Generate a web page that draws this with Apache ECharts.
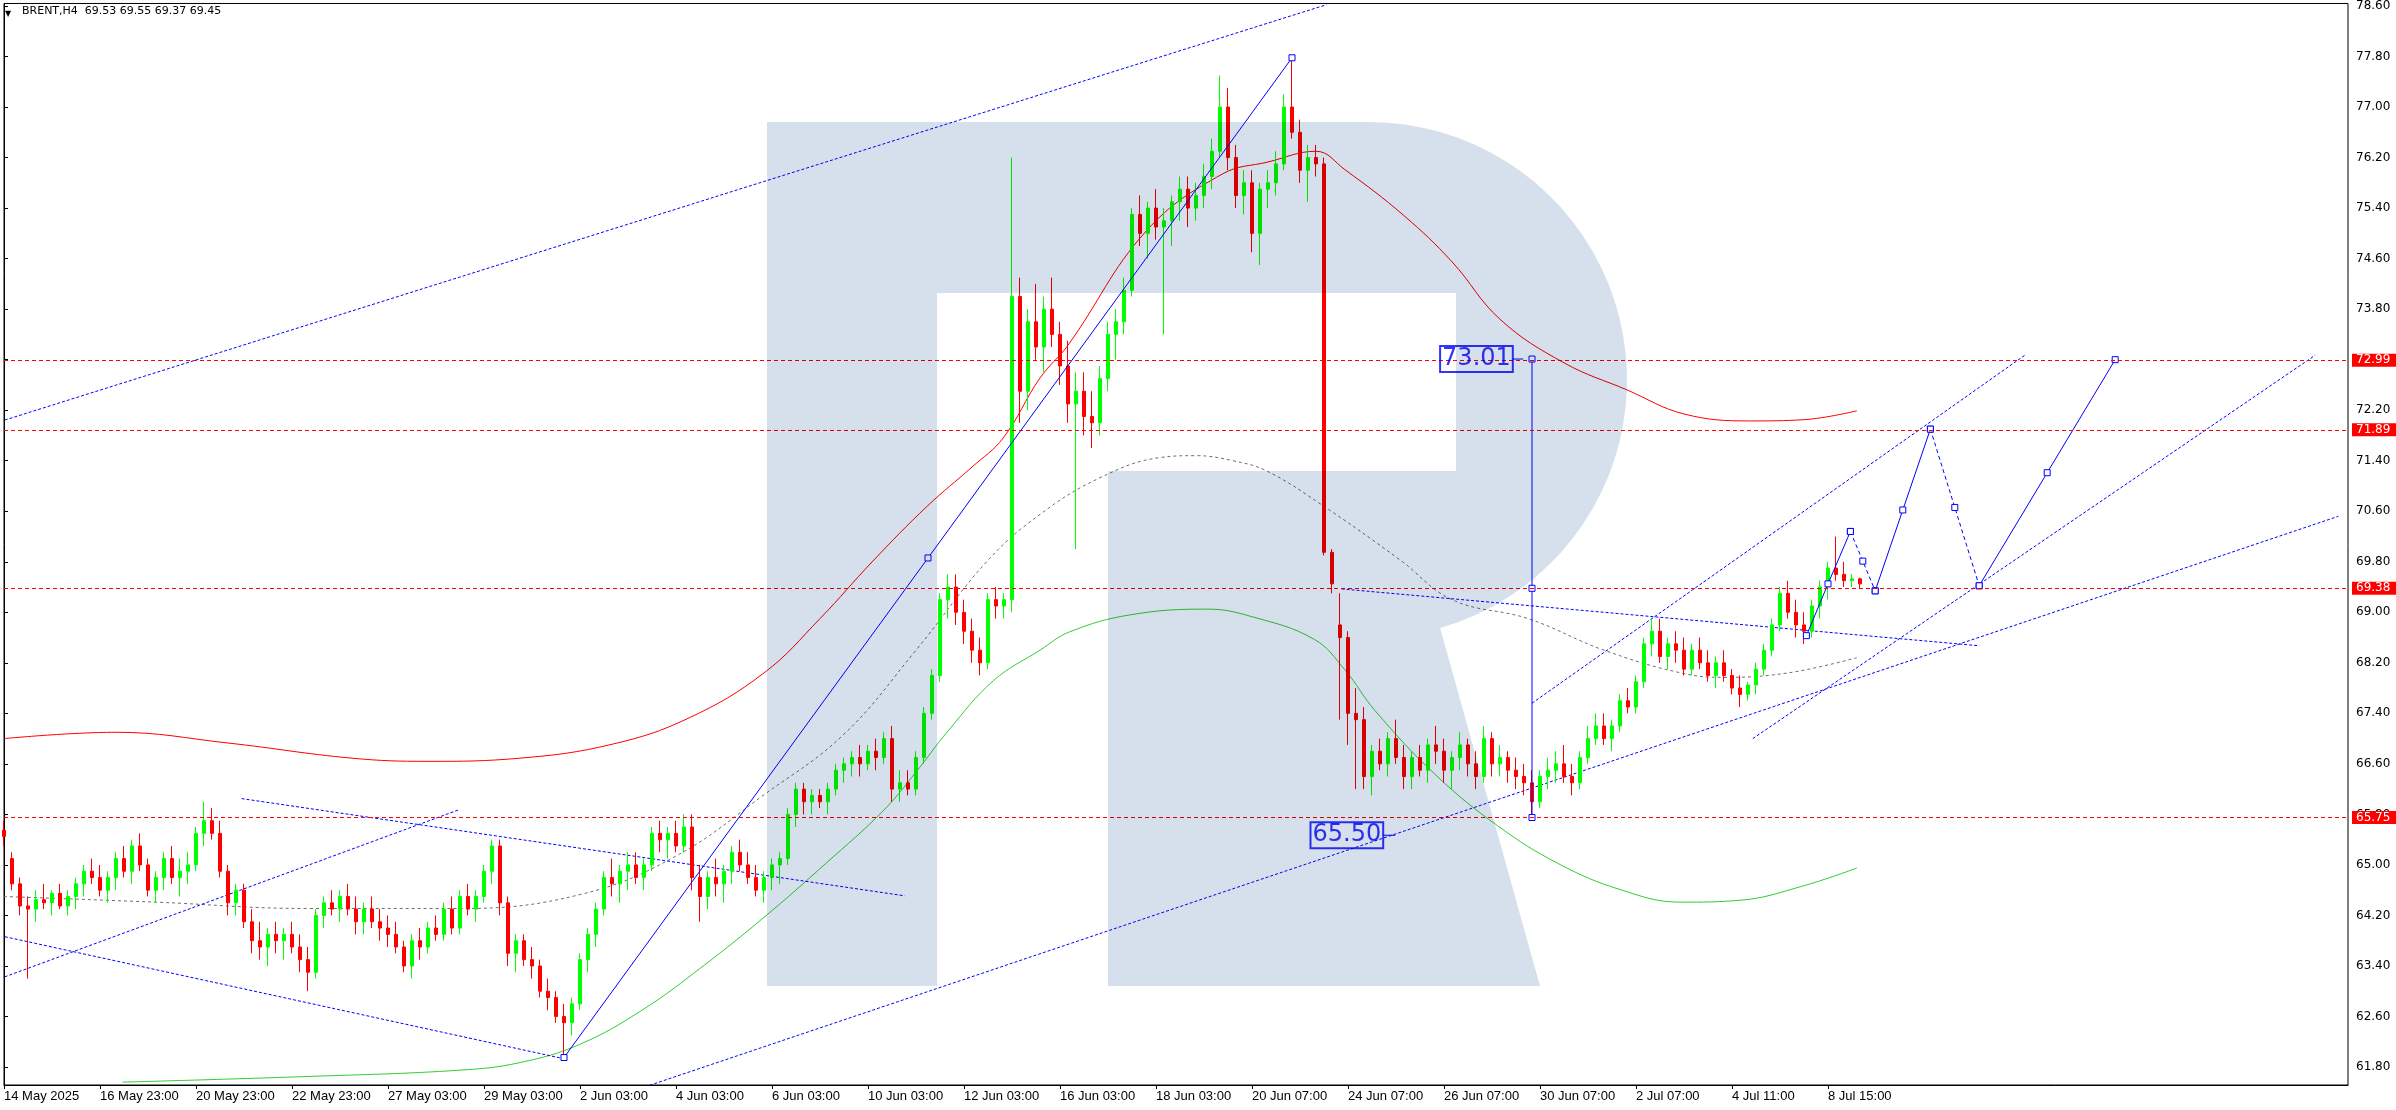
<!DOCTYPE html>
<html><head><meta charset="utf-8">
<script src="https://cdn.jsdelivr.net/npm/echarts@6/dist/echarts.min.js"></script>
<style>html,body{margin:0;padding:0;background:#fff}#c{width:2396px;height:1110px}</style>
</head><body><div id="c"></div><script>
const xTickBars = [0,12,24,36,48,60,72,84,96,108,120,132,144,156,168,180,192,204,216,228];
const xTickLabels = ['14 May 2025','16 May 23:00','20 May 23:00','22 May 23:00','27 May 03:00','29 May 03:00','2 Jun 03:00','4 Jun 03:00','6 Jun 03:00','10 Jun 03:00','12 Jun 03:00','16 Jun 03:00','18 Jun 03:00','20 Jun 07:00','24 Jun 07:00','26 Jun 07:00','30 Jun 07:00','2 Jul 07:00','4 Jul 11:00','8 Jul 15:00'];
const yTicks = [61.80,62.60,63.40,64.20,65.00,65.80,66.60,67.40,68.20,69.00,69.80,70.60,71.40,72.20,73.00,73.80,74.60,75.40,76.20,77.00,77.80,78.60];
const levels = [72.99,71.89,69.38,65.75];
const lastPrice = 69.45;
const titleText = 'BRENT,H4  69.53 69.55 69.37 69.45';
// [open, high, low, close]
const candles = [
[65.55,65.70,65.30,65.45],[65.10,65.20,64.60,64.70],[64.70,64.80,64.20,64.35],[64.35,64.50,63.20,64.30],[64.30,64.60,64.10,64.45],[64.45,64.70,64.30,64.40],[64.40,64.60,64.20,64.55],[64.55,64.70,64.30,64.35],[64.35,64.60,64.20,64.50],[64.50,64.80,64.30,64.70],[64.70,65.00,64.50,64.90],[64.90,65.10,64.70,64.80],
[64.80,65.00,64.50,64.60],[64.60,64.90,64.40,64.80],[64.80,65.20,64.60,65.10],[65.10,65.30,64.80,64.90],[64.90,65.40,64.70,65.30],[65.30,65.50,64.90,65.00],[65.00,65.10,64.50,64.60],[64.60,64.90,64.40,64.80],[64.80,65.20,64.60,65.10],[65.10,65.30,64.70,64.80],[64.80,65.10,64.50,64.90],[64.90,65.20,64.70,65.00],
[65.00,65.60,64.90,65.50],[65.50,66.00,65.30,65.70],[65.70,65.90,65.40,65.50],[65.50,65.70,64.80,64.90],[64.90,65.00,64.20,64.40],[64.40,64.70,64.20,64.60],[64.60,64.70,64.00,64.10],[64.10,64.30,63.60,63.80],[63.80,64.10,63.50,63.70],[63.70,64.00,63.40,63.90],[63.90,64.10,63.60,63.80],[63.80,64.00,63.50,63.90],
[63.90,64.10,63.60,63.70],[63.70,63.90,63.30,63.50],[63.50,63.70,63.00,63.30],[63.30,64.30,63.20,64.20],[64.20,64.50,64.00,64.40],[64.40,64.60,64.20,64.30],[64.30,64.60,64.10,64.50],[64.50,64.70,64.20,64.30],[64.30,64.50,63.90,64.10],[64.10,64.40,63.90,64.30],[64.30,64.50,64.00,64.10],[64.10,64.30,63.80,64.00],
[64.00,64.20,63.70,63.90],[63.90,64.10,63.60,63.70],[63.70,63.80,63.30,63.40],[63.40,63.90,63.20,63.80],[63.80,64.00,63.50,63.70],[63.70,64.10,63.60,64.00],[64.00,64.20,63.80,63.90],[63.90,64.40,63.80,64.30],[64.30,64.50,63.90,64.00],[64.00,64.60,63.90,64.50],[64.50,64.70,64.20,64.30],[64.30,64.60,64.10,64.50],
[64.50,65.00,64.40,64.90],[64.90,65.40,64.70,65.30],[65.30,65.40,64.20,64.40],[64.40,64.50,63.40,63.60],[63.60,63.90,63.30,63.80],[63.80,63.90,63.40,63.50],[63.50,63.70,63.20,63.40],[63.40,63.50,62.90,63.00],[63.00,63.20,62.70,62.90],[62.90,63.00,62.50,62.60],[62.60,62.80,61.95,62.50],[62.50,62.90,62.30,62.80],
[62.80,63.60,62.70,63.50],[63.50,64.00,63.30,63.90],[63.90,64.40,63.70,64.30],[64.30,64.90,64.20,64.80],[64.80,65.10,64.50,64.70],[64.70,65.00,64.40,64.90],[64.90,65.20,64.60,65.00],[65.00,65.20,64.70,64.80],[64.80,65.10,64.60,65.00],[65.00,65.60,64.90,65.50],[65.50,65.70,65.20,65.40],[65.40,65.60,65.10,65.50],
[65.50,65.70,65.20,65.30],[65.30,65.80,65.20,65.60],[65.60,65.80,64.60,64.80],[64.80,65.00,64.10,64.50],[64.50,64.90,64.30,64.80],[64.80,65.10,64.50,64.70],[64.70,65.00,64.40,64.90],[64.90,65.30,64.70,65.20],[65.20,65.40,64.90,65.00],[65.00,65.20,64.70,64.80],[64.80,65.00,64.50,64.60],[64.60,64.90,64.40,64.80],
[64.80,65.10,64.60,65.00],[65.00,65.20,64.70,65.10],[65.10,65.90,65.00,65.80],[65.80,66.30,65.60,66.20],[66.20,66.30,65.80,66.00],[66.00,66.20,65.80,66.10],[66.10,66.20,65.90,66.00],[66.00,66.30,65.80,66.20],[66.20,66.60,66.10,66.50],[66.50,66.70,66.30,66.60],[66.60,66.80,66.40,66.70],[66.70,66.90,66.40,66.60],
[66.60,66.90,66.50,66.80],[66.80,67.00,66.50,66.70],[66.70,67.10,66.60,67.00],[67.00,67.20,66.00,66.20],[66.20,66.50,66.00,66.30],[66.30,66.50,66.10,66.20],[66.20,66.80,66.10,66.70],[66.70,67.50,66.60,67.40],[67.40,68.10,67.30,68.00],[68.00,69.30,67.90,69.20],[69.20,69.60,68.90,69.40],[69.40,69.60,68.80,69.00],
[69.00,69.20,68.50,68.70],[68.70,68.90,68.20,68.40],[68.40,68.60,68.00,68.20],[68.20,69.30,68.10,69.20],[69.20,69.40,68.90,69.10],[69.10,69.30,68.90,69.20],[69.20,76.20,69.00,74.00],[74.00,74.30,72.00,72.50],[72.50,73.80,72.20,73.60],[73.60,74.20,73.00,73.20],[73.20,74.00,72.80,73.80],[73.80,74.30,73.20,73.40],
[73.40,73.60,72.60,72.90],[72.90,73.30,72.00,72.30],[72.30,72.80,70.00,72.50],[72.50,72.80,71.80,72.10],[72.10,72.50,71.60,72.00],[72.00,72.90,71.80,72.70],[72.70,73.60,72.50,73.40],[73.40,73.80,73.00,73.60],[73.60,74.30,73.40,74.10],[74.10,75.40,74.00,75.30],[75.30,75.60,74.80,75.00],[75.00,75.50,74.60,75.40],
[75.40,75.70,74.90,75.10],[75.10,75.40,73.40,75.20],[75.20,75.60,74.80,75.50],[75.50,75.90,75.20,75.70],[75.70,75.90,75.10,75.40],[75.40,75.80,75.20,75.60],[75.60,76.10,75.40,75.90],[75.90,76.50,75.70,76.30],[76.30,77.50,76.20,77.00],[77.00,77.30,76.00,76.20],[76.20,76.40,75.40,75.60],[75.60,76.00,75.30,75.80],
[75.80,76.00,74.70,75.00],[75.00,75.80,74.50,75.70],[75.70,76.00,75.40,75.80],[75.80,76.30,75.60,76.10],[76.10,77.20,76.00,77.00],[77.00,77.75,76.50,76.60],[76.60,76.80,75.80,76.00],[76.00,76.40,75.50,76.20],[76.20,76.40,75.90,76.10],[76.10,76.20,69.90,69.95],[69.95,70.00,69.30,69.45],[68.80,69.30,67.30,68.60],
[68.60,68.70,66.90,67.40],[67.40,67.80,66.20,67.30],[67.30,67.50,66.20,66.40],[66.40,66.90,66.10,66.80],[66.80,67.00,66.50,66.60],[66.60,67.10,66.40,67.00],[67.00,67.30,66.60,66.70],[66.70,66.90,66.20,66.40],[66.40,66.80,66.20,66.70],[66.70,66.90,66.40,66.50],[66.50,67.00,66.30,66.90],[66.90,67.20,66.60,66.80],
[66.80,67.00,66.30,66.50],[66.50,66.80,66.20,66.70],[66.70,67.10,66.50,66.90],[66.90,67.00,66.40,66.60],[66.60,66.80,66.20,66.40],[66.40,67.20,66.30,67.00],[67.00,67.10,66.40,66.60],[66.60,66.90,66.40,66.70],[66.70,66.80,66.30,66.50],[66.50,66.70,66.20,66.40],[66.40,66.60,66.10,66.30],[66.30,66.50,65.80,66.00],
[66.00,66.50,65.90,66.40],[66.40,66.70,66.20,66.50],[66.50,66.80,66.30,66.60],[66.60,66.90,66.30,66.40],[66.40,66.60,66.10,66.30],[66.30,66.80,66.20,66.70],[66.70,67.20,66.60,67.00],[67.00,67.40,66.90,67.20],[67.20,67.40,66.90,67.00],[67.00,67.30,66.80,67.20],[67.20,67.70,67.10,67.60],[67.60,67.80,67.40,67.50],
[67.50,68.00,67.40,67.90],[67.90,68.60,67.80,68.50],[68.50,68.90,68.30,68.70],[68.70,68.90,68.20,68.30],[68.30,68.60,68.10,68.50],[68.50,68.70,68.20,68.40],[68.40,68.60,68.00,68.10],[68.10,68.50,68.00,68.40],[68.40,68.60,68.10,68.20],[68.20,68.40,67.90,68.00],[68.00,68.30,67.80,68.20],[68.20,68.40,67.90,68.00],
[68.00,68.10,67.70,67.80],[67.80,68.00,67.50,67.70],[67.70,67.90,67.60,67.85],[67.85,68.20,67.70,68.10],[68.10,68.50,68.00,68.40],[68.40,68.90,68.30,68.80],[68.80,69.40,68.70,69.30],[69.30,69.50,68.90,69.00],[69.00,69.20,68.60,68.80],[68.80,69.00,68.50,68.70],[68.70,69.20,68.60,69.10],[69.10,69.50,68.90,69.40],
[69.40,69.80,69.20,69.70],[69.70,70.20,69.50,69.60],[69.60,69.80,69.40,69.50],[69.50,69.60,69.40,69.53],[69.53,69.55,69.37,69.45]
];
// moving averages: [bar, price]
const maRed = [[0,67.0],[14,67.1],[28,66.93],[43.5,66.69],[53,66.64],[64.5,66.69],[76,66.91],[85.5,67.32],[95,68.04],[102,68.9],[108.6,69.81],[115.4,70.68],[121,71.3],[124.9,71.76],[129.5,72.71],[133,73.23],[142.8,75.04],[152.3,75.94],[158,76.13],[164,76.30],[167.6,76.01],[175,75.28],[181,74.55],[187,73.64],[195,72.95],[202.9,72.52],[210,72.14],[218.3,72.03],[225,72.05],[231.6,72.19]];
const maGreen = [[14.8,61.56],[38,61.65],[57,61.75],[64.5,61.87],[72,62.16],[80,62.72],[87.4,63.40],[95,64.17],[102.7,65.02],[110,65.87],[114,66.47],[118,67.12],[123.7,67.92],[129.5,68.40],[133.2,68.69],[140.8,68.96],[150.4,69.05],[156,68.93],[163.8,68.57],[167.6,68.09],[171.4,67.44],[179,66.42],[186.7,65.62],[194.3,65.02],[202,64.61],[209.6,64.41],[217,64.44],[224.7,64.66],[231.6,64.95]];
const maGrey = [[0,64.5],[19,64.41],[38,64.31],[57,64.31],[72,64.53],[84,65.14],[95,66.11],[105,67.07],[114,68.4],[122.9,69.81],[129.5,70.55],[137,71.13],[144.5,71.45],[149,71.48],[153.6,71.40],[157.8,71.24],[164.5,70.72],[174.5,69.83],[181,69.2],[190.5,68.9],[200,68.4],[209.6,68.04],[215,67.97],[223,68.04],[231.6,68.28]];
// dotted trend lines: [[bar, price],[bar, price]]
const trendLines = [
  [[-0.5,72.02],[165.3,78.62]],
  [[80.7,61.51],[291.8,70.52]],
  [[-0.5,63.88],[70,61.93]],
  [[-0.5,63.2],[56.8,65.87]],
  [[29.7,66.05],[112.6,64.51]],
  [[167.2,69.37],[246.9,68.47]],
  [[191,67.56],[252.6,73.07]],
  [[218.6,67.0],[288.9,73.07]]
];
// solid tool lines with square points
const impulseLine = [[70,61.95],[115.5,69.86],[161,77.78]];
const rangeLine = [[191,73.01],[191,69.38],[191,65.75]];
const forecastSolid = [
  [[225.3,68.63],[228,69.45],[230.8,70.28]],
  [[233.9,69.34],[237.35,70.62],[240.8,71.9]],
  [[246.9,69.42],[255.4,71.21],[263.9,73.0]]
];
const forecastDashed = [
  [[230.8,70.28],[232.35,69.81],[233.9,69.34]],
  [[240.8,71.9],[243.85,70.66],[246.9,69.42]]
];
const textMarks = [{bar:188.6, price:73.01, text:'73.01'},{bar:172.4, price:65.47, text:'65.50'}];
const leaders = [[[188.6,73.01],[189.9,73.01]],[[172.4,65.47],[173.9,65.47]]];

const chart = echarts.init(document.getElementById('c'));
const BLUE = '#0000ff';
const sq = {symbol:'rect', symbolSize:6, itemStyle:{color:'#ffffff', borderColor:BLUE, borderWidth:1}};
const series = [];
series.push({
  type:'candlestick', name:'BRENT', barWidth:4,
  encode:{x:0, y:[1,2,3,4]},
  data: candles.map((c,i)=>[i,c[0],c[3],c[2],c[1]]),
  itemStyle:{color:'#00ff00', color0:'#ff0000', borderColor:'#00ff00', borderColor0:'#ff0000', borderWidth:1},
  z:3, animation:false
});
function lineS(data, color, type, extra){
  return Object.assign({type:'line', data, symbol:'none', smooth:false, lineStyle:{color, width:1, type}, silent:true, animation:false, z:2}, extra||{});
}
series.push(lineS(maRed,'#ff0000','solid',{smooth:0.4}));
series.push(lineS(maGreen,'#32cd32','solid',{smooth:0.4}));
series.push(lineS(maGrey,'#6e6e6e',[3,3],{smooth:0.4}));
trendLines.forEach(t=>series.push(lineS(t,BLUE,[3,2])));
leaders.forEach(t=>series.push(lineS(t,BLUE,'solid',{z:4})));
[impulseLine, rangeLine].concat(forecastSolid).forEach(t=>series.push(Object.assign(lineS(t,BLUE,'solid'),sq,{showSymbol:true,z:4})));
forecastDashed.forEach(t=>series.push(Object.assign(lineS(t,BLUE,[4,3]),sq,{showSymbol:true,z:4})));
series.push({type:'line', data:[], silent:true, z:5,
  markLine:{symbol:['none','none'], silent:true, animation:false,
    lineStyle:{opacity:0},
    label:{position:'end', distance:4, formatter:lastPrice.toFixed(2), backgroundColor:'#000', color:'#fff', fontSize:12, fontFamily:'DejaVu Sans', padding:[1,10,0,4]},
    data:[{yAxis:lastPrice}]}});
series.push({type:'line', data:[], silent:true, z:6,
  markLine:{symbol:['none','none'], silent:true, animation:false,
    lineStyle:{color:'#ff0000', width:1, type:[4,3]},
    label:{position:'end', distance:4, formatter:p=>p.value.toFixed(2), backgroundColor:'#ff0000', color:'#fff', fontSize:12, fontFamily:'DejaVu Sans', padding:[1,10,0,4]},
    data:levels.map(v=>({yAxis:v}))}});
series.push({type:'scatter', symbolSize:0, z:7, silent:true, animation:false,
  data:textMarks.map(m=>({value:[m.bar,m.price], name:m.text})),
  label:{show:true, position:'left', distance:0, formatter:p=>p.name, color:BLUE, fontSize:24, fontFamily:'DejaVu Sans', borderColor:BLUE, borderWidth:1, padding:[2,2,0,2], backgroundColor:'transparent'}});

// watermark "R" outline (pixels)
const rPts = [[767,122],[1369,122]];
for(let a=-90;a<=74;a+=4){const r=a*Math.PI/180; rPts.push([1369+258*Math.cos(r),380+258*Math.sin(r)]);}
rPts.push([1540,986],[1108,986],[1108,471],[1456,471],[1456,293],[937,293],[937,986],[767,986]);

const option = {
  backgroundColor:'#ffffff',
  animation:false,
  grid:{left:4, right:48, top:2, bottom:25, show:true, borderColor:'#000', borderWidth:1, backgroundColor:'transparent'},
  xAxis:{type:'value', min:0, max:293,
    axisLine:{show:true, lineStyle:{color:'#000'}},
    axisTick:{show:true, customValues:xTickBars, length:4, lineStyle:{color:'#000'}},
    axisLabel:{show:true, customValues:xTickBars, formatter:v=>xTickLabels[xTickBars.indexOf(Math.round(v))]||'', align:'left', margin:5, color:'#000', fontSize:13, fontFamily:'Liberation Sans Narrow, Arial Narrow, sans-serif'},
    splitLine:{show:false}},
  yAxis:{type:'value', position:'right', min:61.515, max:78.64, scale:true,
    axisLine:{show:true, lineStyle:{color:'#000'}},
    axisTick:{show:true, customValues:yTicks, length:4, inside:false, lineStyle:{color:'#000'}},
    axisLabel:{show:true, customValues:yTicks, formatter:v=>v.toFixed(2), margin:8, color:'#000', fontSize:12, fontFamily:'DejaVu Sans'},
    splitLine:{show:false}},
  graphic:[
    {type:'text', left:5, top:10, z:10, style:{text:'▼', fontSize:8, fill:'#000', fontFamily:'DejaVu Sans'}},
    {type:'text', left:22, top:6, z:10, style:{text:titleText, fontSize:11, fill:'#000', fontFamily:'DejaVu Sans'}},
    {type:'polygon', z:100, silent:true, shape:{points:rPts}, style:{fill:'#d6e0ec', blend:'multiply'}}
  ],
  series
};
chart.setOption(option);
</script></body></html>
